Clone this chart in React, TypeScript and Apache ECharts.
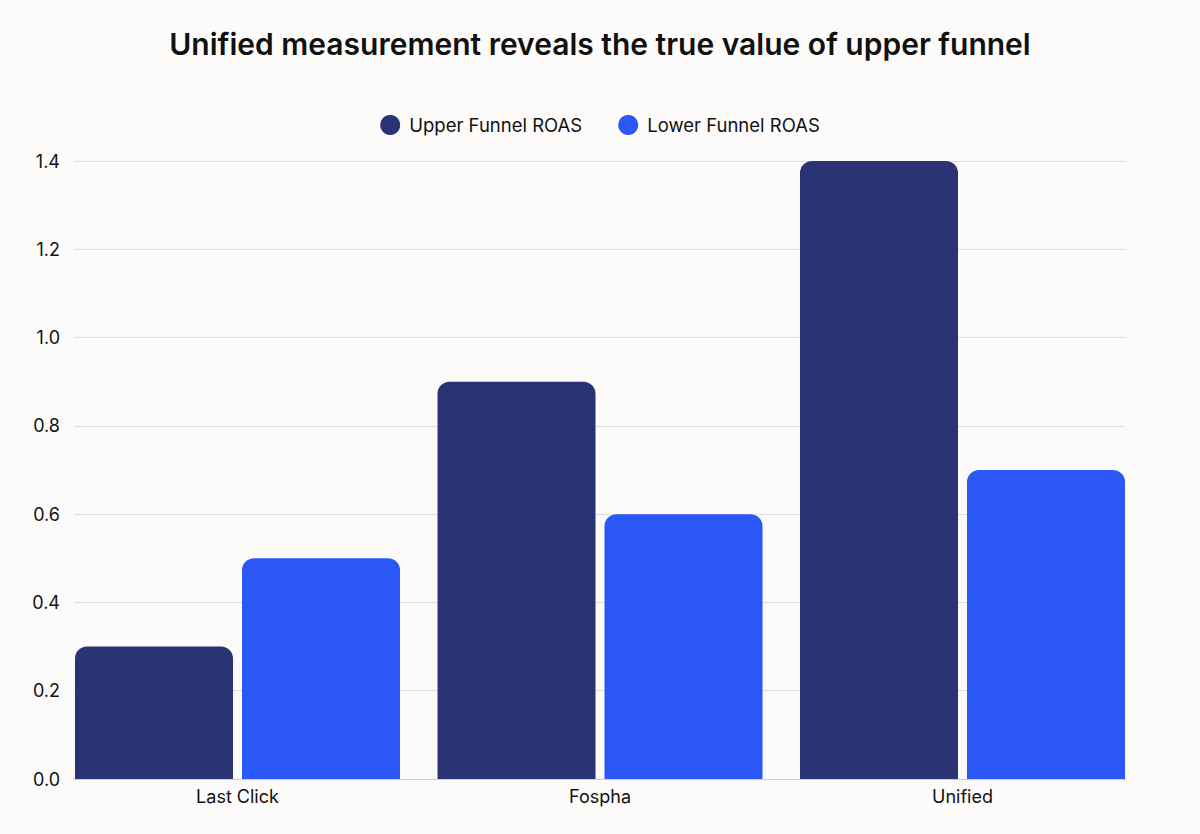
import React, { useEffect, useRef } from "react";
import * as echarts from "echarts";

const categories = ["Last Click", "Fospha", "Unified"];
const upperFunnel = [0.3, 0.9, 1.4];
const lowerFunnel = [0.5, 0.6, 0.7];
const seriesNames = ["Upper Funnel ROAS", "Lower Funnel ROAS"];
const yMin = 0;
const yMax = 1.4;
const yInterval = 0.2;

export default function App() {
  const ref = useRef<HTMLDivElement>(null);
  useEffect(() => {
    if (!ref.current) return;
    const chart = echarts.init(ref.current, undefined, { renderer: "svg" });
    const font = "Inter, 'Noto Sans', sans-serif";
    chart.setOption({
      animation: false,
      backgroundColor: "#fcfbf9",
      title: {
        text: "Unified measurement reveals the true value of upper funnel",
        left: "center",
        top: 24,
        textStyle: { fontFamily: font, fontSize: 30, fontWeight: 600, color: "#111111" },
      },
      legend: {
        top: 110,
        left: "center",
        icon: "circle",
        itemWidth: 20,
        itemHeight: 20,
        itemGap: 36,
        textStyle: { fontFamily: font, fontSize: 18.5, color: "#111111", padding: [0, 0, 0, 4] },
        data: seriesNames,
      },
      grid: [
        { left: 74, right: 75, top: 161, bottom: 55 },
        { left: 56.25, right: 56.25, top: 161, bottom: 55 },
      ],
      xAxis: [
        {
          type: "category",
          gridIndex: 0,
          data: categories,
          axisLine: { show: true, lineStyle: { color: "#cfcfcf", width: 1 } },
          axisTick: { show: false },
          axisLabel: { show: false },
        },
        {
          type: "category",
          gridIndex: 1,
          data: categories,
          axisLine: { show: false },
          axisTick: { show: false },
          axisLabel: { fontFamily: font, fontSize: 18, color: "#111111", margin: 8 },
        },
      ],
      yAxis: [
        {
          type: "value",
          gridIndex: 0,
          min: yMin,
          max: yMax,
          interval: yInterval,
          axisLine: { show: false },
          axisTick: { show: false },
          axisLabel: {
            fontFamily: font,
            fontSize: 18,
            color: "#111111",
            margin: 14,
            formatter: (v: number) => v.toFixed(1),
          },
          splitLine: { lineStyle: { color: "#dcdcdc", width: 1 } },
        },
        {
          type: "value",
          gridIndex: 1,
          min: yMin,
          max: yMax,
          interval: yInterval,
          show: false,
          splitLine: { show: false },
        },
      ],
      series: [
        {
          name: seriesNames[0],
          type: "bar",
          xAxisIndex: 1,
          yAxisIndex: 1,
          data: upperFunnel,
          barWidth: 158,
          barGap: "5.7%",
          itemStyle: { color: "#2a3373", borderRadius: [12, 12, 0, 0] },
        },
        {
          name: seriesNames[1],
          type: "bar",
          xAxisIndex: 1,
          yAxisIndex: 1,
          data: lowerFunnel,
          barWidth: 158,
          barGap: "5.7%",
          itemStyle: { color: "#2a57f5", borderRadius: [12, 12, 0, 0] },
        },
      ],
    });
    return () => chart.dispose();
  }, []);
  return (
    <div
      ref={ref}
      style={{ position: "fixed", left: 0, top: 0, width: 1200, height: 834 }}
    />
  );
}
